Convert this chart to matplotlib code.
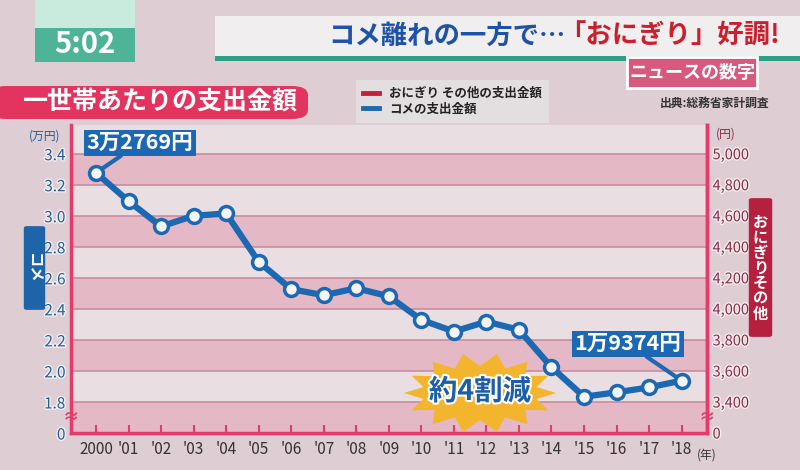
import numpy as np
import matplotlib
matplotlib.use("Agg")
import matplotlib.pyplot as plt
from matplotlib.patches import Rectangle, FancyBboxPatch, Polygon
from matplotlib.lines import Line2D
import matplotlib.patheffects as pe

plt.rcParams['font.family'] = ['Noto Sans CJK JP', 'DejaVu Sans']

# ---------------- data ----------------
years = list(range(2000, 2019))
year_labels = ["2000", "'01", "'02", "'03", "'04", "'05", "'06", "'07", "'08", "'09",
               "'10", "'11", "'12", "'13", "'14", "'15", "'16", "'17", "'18"]
rice = [3.2769, 3.094, 2.931, 3.000, 3.015, 2.703, 2.527, 2.488, 2.533, 2.481,
        2.329, 2.254, 2.318, 2.265, 2.024, 1.834, 1.862, 1.894, 1.9374]  # 万円
left_ticks = [1.6, 1.8, 2.0, 2.2, 2.4, 2.6, 2.8, 3.0, 3.2, 3.4]
left_labels = ["0", "1.8", "2.0", "2.2", "2.4", "2.6", "2.8", "3.0", "3.2", "3.4"]
right_ticks = [3200, 3400, 3600, 3800, 4000, 4200, 4400, 4600, 4800, 5000]
right_labels = ["0", "3,400", "3,600", "3,800", "4,000", "4,200", "4,400", "4,600", "4,800", "5,000"]

BG = "#decdd3"
LIGHT = "#e9dfe2"
PINK = "#e5b8c6"
GRID = "#c98c9f"
SPINE = "#e63a68"
BLUE = "#1c68b2"
RED = "#c0203a"

fig = plt.figure(figsize=(8, 4.7), dpi=100, facecolor=BG)
W, H = 800, 470
def fx(px): return px / W
def fy(py): return 1 - py / H

ax = fig.add_axes([fx(71), fy(433), fx(707) - fx(71), fy(125) - fy(433)])
ax.set_facecolor(LIGHT)
ylo, yhi = 1.6, 3.585
ax.set_ylim(ylo, yhi)
ax.set_xlim(1999.23, 2018.78)

# alternating bands
for i in range(len(left_ticks) - 1):
    a, b = left_ticks[i], left_ticks[i + 1]
    if i % 2 == 0:
        ax.axhspan(a, b, color=PINK, lw=0, zorder=0)
for t in left_ticks[1:]:
    ax.axhline(t, color=GRID, lw=1.2, zorder=1)

ax.plot(years, rice, color=BLUE, lw=4.5, zorder=3, solid_capstyle='round')
ax.plot(years, rice, ls='none', marker='o', ms=10, mfc='#f4f4f6', mec=BLUE, mew=2.5, zorder=4)

# spines
ax.spines['top'].set_visible(False)
for s in ['left', 'right', 'bottom']:
    ax.spines[s].set_color(SPINE)
    ax.spines[s].set_linewidth(2.5)

ax.set_yticks(left_ticks)
ax.set_yticklabels(left_labels)
ax.tick_params(axis='y', length=0, pad=4, labelsize=11, labelcolor="#245c92")
for lab in ax.get_yticklabels():
    lab.set_path_effects([pe.withStroke(linewidth=2, foreground="#f2eef0")])

ax.set_xticks(years)
ax.set_xticklabels(year_labels)
ax.tick_params(axis='x', direction='in', length=6, width=1.5, color=SPINE,
               labelsize=11, labelcolor="#333333", pad=6)

ax2 = ax.twinx()
ax2.set_ylim((ylo - 1.8) * 1000 + 3400, (yhi - 1.8) * 1000 + 3400)
ax2.set_yticks(right_ticks)
ax2.set_yticklabels(right_labels)
ax2.tick_params(axis='y', length=0, pad=4, labelsize=10.5, labelcolor="#8a2a40")
for lab in ax2.get_yticklabels():
    lab.set_path_effects([pe.withStroke(linewidth=2, foreground="#f2eef0")])
for s in ['top', 'left', 'bottom']:
    ax2.spines[s].set_visible(False)
ax2.spines['right'].set_color(SPINE)
ax2.spines['right'].set_linewidth(2.5)

# break marks (on the spines)
for xpos in [0.0, 1.0]:
    ax.text(xpos, 1.705, "≈", transform=ax.get_yaxis_transform(), color=SPINE,
            fontsize=12, ha='center', va='center', zorder=6,
            clip_on=False, fontweight='bold')

# (年)
ax.text(1.0, -0.05, "(年)", transform=ax.transAxes, fontsize=8.5, color="#333333",
        ha='center', va='top')
# unit labels
fig.text(fx(45), fy(136), "(万円)", fontsize=8.5, color="#245c92", ha='center', va='center')
fig.text(fx(726), fy(134), "(円)", fontsize=8.5, color="#8a2a40", ha='center', va='center')

# value callouts
def yen_label(v):
    n = int(round(v * 10000))
    return f"{n // 10000}万{n % 10000}円"

ax.annotate(yen_label(rice[0]), xy=(years[0], rice[0]), xytext=(44, 30),
            textcoords='offset pixels', ha='center', va='center', fontsize=15.5,
            color='white', fontweight='bold', zorder=7,
            bbox=dict(boxstyle='square,pad=0.12', fc=BLUE, ec='none'),
            arrowprops=dict(arrowstyle='-', color=BLUE, lw=3, shrinkA=0, shrinkB=5))
ax.annotate(yen_label(rice[-1]), xy=(years[-1], rice[-1]), xytext=(-54, 37),
            textcoords='offset pixels', ha='center', va='center', fontsize=15.5,
            color='white', fontweight='bold', zorder=7,
            bbox=dict(boxstyle='square,pad=0.12', fc=BLUE, ec='none'),
            arrowprops=dict(arrowstyle='-', color=BLUE, lw=3, shrinkA=0, shrinkB=5))

# starburst "約4割減"
cx, cy = 480, 393
n = 14
ang = np.linspace(0, 2 * np.pi, 2 * n, endpoint=False)
rx = np.where(np.arange(2 * n) % 2 == 0, 76, 58)
ry = np.where(np.arange(2 * n) % 2 == 0, 40, 27)
pts = np.column_stack([fx(cx + rx * np.cos(ang)), fy(cy + ry * np.sin(ang))])
fig.patches.append(Polygon(pts, closed=True, transform=fig.transFigure,
                           fc="#f3b52e", ec='none', zorder=5))
fig.text(fx(cx), fy(cy - 1), "約4割減", fontsize=20.5, fontweight='bold', color="#1d5ea6",
         ha='center', va='center', zorder=6,
         path_effects=[pe.withStroke(linewidth=3, foreground='white')])

# side labels
fig.patches.append(FancyBboxPatch((fx(27), fy(308)), fx(15), fy(228) - fy(308),
                                  boxstyle='round,pad=0.004', transform=fig.transFigure,
                                  fc="#1d64a8", ec='none'))
fig.text(fx(34.5), fy(268), "コメ", rotation=270, fontsize=11, color='white',
         ha='center', va='center', fontweight='bold')
fig.patches.append(FancyBboxPatch((fx(752), fy(335)), fx(17), fy(200) - fy(335),
                                  boxstyle='round,pad=0.004', transform=fig.transFigure,
                                  fc="#b5203f", ec='none'))
fig.text(fx(760.5), fy(268), "\n".join("おにぎりその他"), fontsize=11, color='white',
         ha='center', va='center', fontweight='bold', linespacing=0.95)

# header: time box
fig.patches.append(Rectangle((fx(35), fy(62)), fx(100), fy(0) - fy(62),
                             transform=fig.transFigure, fc="#4db497", ec='none'))
fig.patches.append(Rectangle((fx(35), fy(28)), fx(100), fy(0) - fy(28),
                             transform=fig.transFigure, fc="#c9ebdd", ec='none'))
fig.text(fx(85), fy(44), "5:02", fontsize=21, color='white', ha='center', va='center',
         fontweight='bold')

# title bar
fig.patches.append(Rectangle((fx(215), fy(56)), fx(590), fy(16) - fy(56),
                             transform=fig.transFigure, fc="#f1eeef", ec='none'))
fig.patches.append(Rectangle((fx(215), fy(61)), fx(590), fy(56) - fy(61),
                             transform=fig.transFigure, fc="#2f9f84", ec='none'))
t1 = fig.text(fx(328), fy(36), "コメ離れの一方で…", fontsize=19, color="#1e52a6",
              ha='left', va='center', fontweight='bold')
renderer = fig.canvas.get_renderer()
bb = t1.get_window_extent(renderer=renderer)
x_end = bb.x1 / fig.bbox.width
fig.text(x_end - fx(6), fy(36), "「おにぎり」好調!", fontsize=19, color="#c8202e",
         ha='left', va='center', fontweight='bold')

# news box
fig.patches.append(Rectangle((fx(627), fy(88)), fx(130), fy(57) - fy(88),
                             transform=fig.transFigure, fc="#d8587e", ec='white', lw=2))
fig.text(fx(692), fy(72.5), "ニュースの数字", fontsize=13, color='white',
         ha='center', va='center', fontweight='bold')
fig.text(fx(715), fy(103), "出典:総務省家計調査", fontsize=8.5, color="#333333",
         ha='center', va='center', fontweight='bold')

# chart title box
fig.patches.append(FancyBboxPatch((fx(-10), fy(119)), fx(318), fy(86) - fy(119),
                                  boxstyle='round,pad=0,rounding_size=0.02',
                                  transform=fig.transFigure, fc="#e2345f", ec='none'))
fig.text(fx(160), fy(102), "一世帯あたりの支出金額", fontsize=18, color='white',
         ha='center', va='center', fontweight='bold')

# legend
handles = [Line2D([], [], color="#c8203c", lw=3.5), Line2D([], [], color=BLUE, lw=3.5)]
leg = fig.legend(handles, ["おにぎり その他の支出金額", "コメの支出金額"],
                 loc='upper left', bbox_to_anchor=(fx(350), fy(74)), frameon=True,
                 fontsize=9, handlelength=1.3, borderpad=0.55, labelspacing=0.2,
                 facecolor="#e3dfe1", edgecolor='none', framealpha=1, fancybox=False)
for t in leg.get_texts():
    t.set_color("#222222")
    t.set_fontweight('bold')

fig.savefig("out.png", dpi=100, facecolor=BG)
